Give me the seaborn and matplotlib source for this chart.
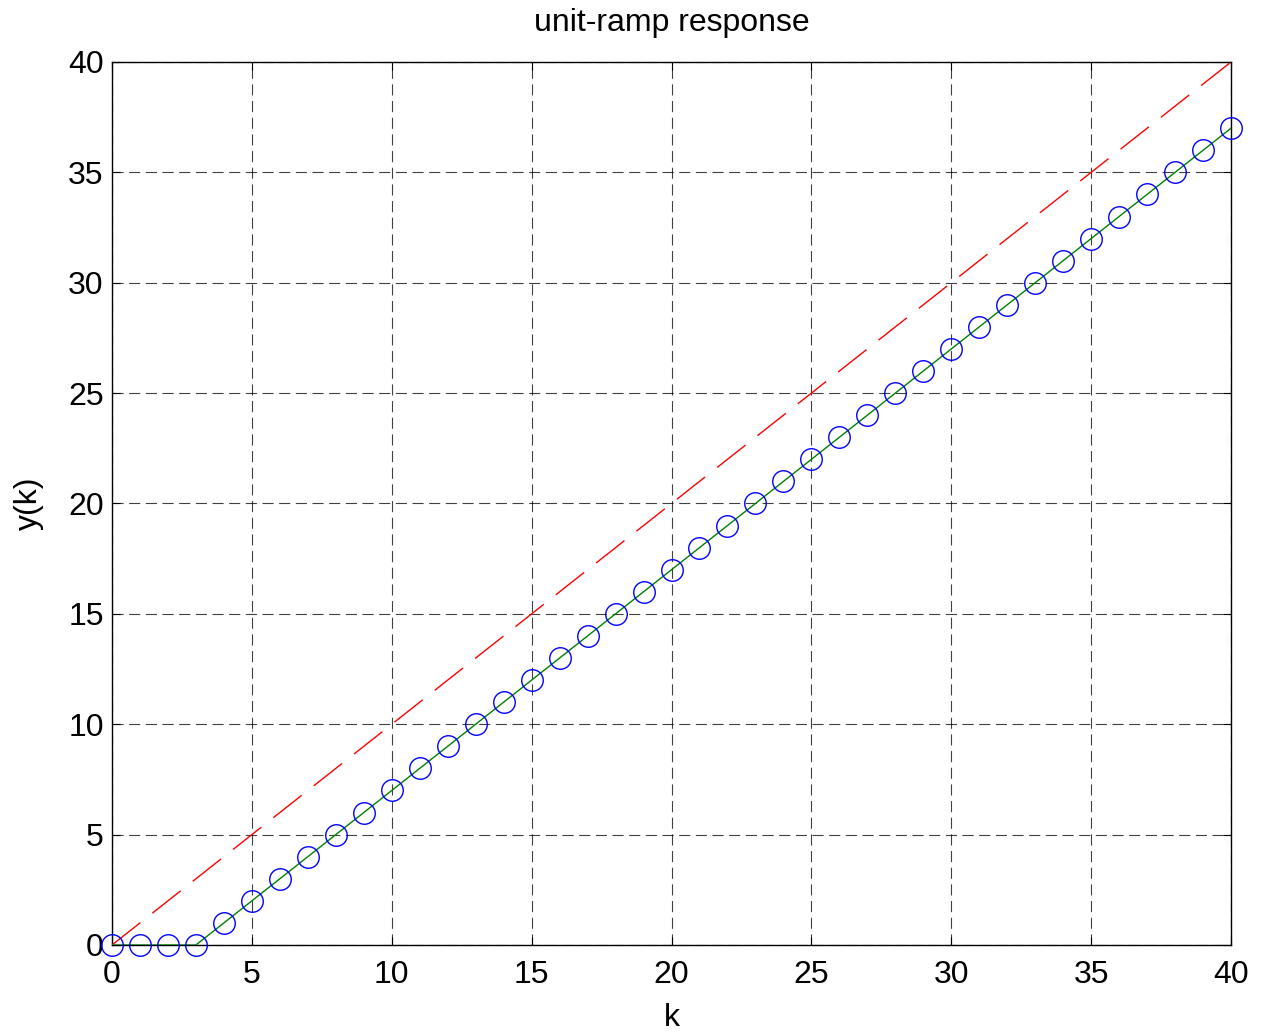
import matplotlib
matplotlib.use("Agg")
import matplotlib.pyplot as plt
import seaborn as sns
import pandas as pd

k = list(range(0, 41))
y_resp = [0, 0, 0, 0, 1, 2, 3, 4, 5, 6, 7, 8, 9, 10, 11, 12, 13, 14, 15, 16,
          17, 18, 19, 20, 21, 22, 23, 24, 25, 26, 27, 28, 29, 30, 31, 32, 33,
          34, 35, 36, 37]
ramp = [0, 1, 2, 3, 4, 5, 6, 7, 8, 9, 10, 11, 12, 13, 14, 15, 16, 17, 18, 19,
        20, 21, 22, 23, 24, 25, 26, 27, 28, 29, 30, 31, 32, 33, 34, 35, 36, 37,
        38, 39, 40]

df = pd.DataFrame({"k": k, "y": y_resp, "r": ramp})

sns.set_style("white")
plt.rcParams['font.family'] = ['Liberation Sans', 'DejaVu Sans']
plt.rcParams['text.color'] = 'black'
plt.rcParams['axes.labelcolor'] = 'black'

fig = plt.figure(figsize=(12.69, 10.34), dpi=100)
ax = fig.add_axes([112/1269, 1 - 945/1034, (1231-112)/1269, (945-62)/1034])

sns.lineplot(data=df, x="k", y="r", ax=ax, color="red", linewidth=1.0,
             dashes=False, linestyle=(0, (26, 11)), zorder=3)
sns.lineplot(data=df, x="k", y="y", ax=ax, color="green", linewidth=1.0, zorder=3)
ax.plot(df["k"], df["y"], linestyle="none", marker="o", markersize=15.5,
        markerfacecolor="none", markeredgecolor="blue", markeredgewidth=1.0,
        zorder=4, clip_on=False)

ax.set_xlim(0, 40)
ax.set_ylim(0, 40)
ax.set_xticks(range(0, 41, 5))
ax.set_yticks(range(0, 41, 5))
ax.grid(True, color="black", linestyle=(0, (10, 5)), linewidth=0.8, alpha=0.75)
for s in ax.spines.values():
    s.set_color("black")
    s.set_linewidth(1.0)
ax.tick_params(direction="in", length=6, labelsize=23, colors="black",
               bottom=True, left=True, top=True, right=True)
ax.tick_params(axis="x", pad=11)
ax.tick_params(axis="y", pad=6)
ax.set_xlabel("k", fontsize=23, labelpad=9, color="black")
ax.set_ylabel("y(k)", fontsize=23, labelpad=17, color="black")
ax.set_title("unit-ramp response", fontsize=23, pad=22, color="black")

fig.savefig("out.png", dpi=100, facecolor="white")
